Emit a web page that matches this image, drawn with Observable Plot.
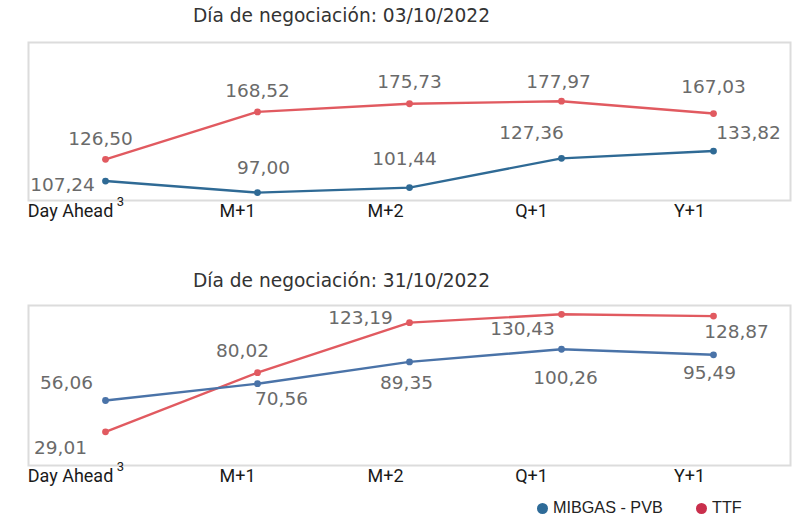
<!DOCTYPE html>
<html>
<head>
<meta charset="utf-8">
<script src="https://cdn.jsdelivr.net/npm/d3@7"></script>
<script src="https://cdn.jsdelivr.net/npm/@observablehq/plot@0.6"></script>
<style>
  html, body { margin: 0; padding: 0; background: #fff; }
  #root { position: relative; width: 798px; height: 519px; overflow: hidden; }
  .title { position: absolute; left: 0; width: 683px; text-align: center; font-family: "DejaVu Sans", sans-serif; font-size: 18.6px; line-height: 21px; color: #333; }
  .chart { position: absolute; left: 0; }
  .legend { position: absolute; top: 497px; font-family: "Liberation Sans", Arial, sans-serif; font-size: 16.2px; line-height: 20px; color: #222; white-space: nowrap; }
  .legend .sw { display: inline-block; width: 11px; height: 11px; border-radius: 50%; vertical-align: -1px; margin-right: 5px; }
</style>
</head>
<body>
<div id="root"></div>
<script>
// ---- data ----
const categories = ["Day Ahead", "M+1", "M+2", "Q+1", "Y+1"];
const titles = ["Día de negociación: 03/10/2022", "Día de negociación: 31/10/2022"];
const seriesNames = ["MIBGAS - PVB", "TTF"];
const mibgas1 = [107.24, 97.00, 101.44, 127.36, 133.82];
const ttf1 = [126.50, 168.52, 175.73, 177.97, 167.03];
const mibgas2 = [56.06, 70.56, 89.35, 100.26, 95.49];
const ttf2 = [29.01, 80.02, 123.19, 130.43, 128.87];

// ---- styling / layout ----
const red = "#e15a60";
const legendBlue = "#2e6b98";
const legendRed = "#c92f4c";
const fmt = d3.formatLocale({decimal: ",", thousands: ".", grouping: [3], currency: ["", "€"]}).format(".2f");
const tickNudge = [-35, -20, -24, -30, -24];
const labelNudges1 = {
  mib: [[-43, 4], [6, -25], [-5, -29], [-30, -25], [35, -18]],
  ttf: [[-5, -20], [0, -21], [0, -22], [-3, -19], [0, -26]]
};
const labelNudges2 = {
  mib: [[-39, -17], [24, 15], [-3, 21], [4, 29], [-4, 18]],
  ttf: [[-45, 16], [-15, -22], [-49, -5], [-39, 15], [23, 16]]
};

const root = document.getElementById("root");

function rows(values, series) {
  return categories.map((c, i) => ({cat: c, value: values[i], series}));
}

function labelMarks(data, nudges) {
  return data.map((d, i) => Plot.text([d], {
    x: "cat", y: "value", text: d => fmt(d.value),
    dx: nudges[i][0], dy: nudges[i][1],
    textAnchor: "middle", lineAnchor: "middle",
    fill: "#6a6a6a", fontSize: 18.5, fontFamily: "DejaVu Sans, sans-serif"
  }));
}

function panel({mib, ttf, yDomain, blue, nudges, top, height}) {
  const mRows = rows(mib, seriesNames[0]);
  const tRows = rows(ttf, seriesNames[1]);
  const chart = Plot.plot({
    width: 798, height,
    marginTop: 10, marginBottom: 22, marginLeft: 28, marginRight: 8,
    x: {type: "point", domain: categories, padding: 0.5, axis: null},
    y: {domain: yDomain, axis: null},
    style: {background: "transparent", overflow: "visible"},
    marks: [
      Plot.frame({stroke: "#dcdcdc", strokeWidth: 2}),
      Plot.line(tRows, {x: "cat", y: "value", stroke: red, strokeWidth: 2.4}),
      Plot.line(mRows, {x: "cat", y: "value", stroke: blue, strokeWidth: 2.4}),
      Plot.dot(tRows, {x: "cat", y: "value", fill: red, r: 3.4}),
      Plot.dot(mRows, {x: "cat", y: "value", fill: blue, r: 3.4}),
      ...labelMarks(mRows, nudges.mib),
      ...labelMarks(tRows, nudges.ttf),
      ...categories.map((c, i) => Plot.text([c], {
        x: d => d, frameAnchor: "bottom", text: d => d,
        dx: tickNudge[i], dy: 16, lineAnchor: "bottom", textAnchor: "middle",
        fill: "#1a1a1a", fontSize: 18, fontFamily: "Roboto, sans-serif"
      })),
      Plot.text([categories[0]], {
        x: d => d, frameAnchor: "bottom", text: () => "3",
        dx: 15, dy: 5, lineAnchor: "bottom", textAnchor: "middle",
        fill: "#1a1a1a", fontSize: 13, fontFamily: "Roboto, sans-serif"
      })
    ]
  });
  chart.classList.add("chart");
  chart.style.top = top + "px";
  root.appendChild(chart);
}

function title(text, top) {
  const t = document.createElement("div");
  t.className = "title";
  t.style.top = top + "px";
  t.textContent = text;
  root.appendChild(t);
}

title(titles[0], 5);
panel({mib: mibgas1, ttf: ttf1, yDomain: [90, 230], blue: "#2f6a95", nudges: labelNudges1, top: 32, height: 190});
title(titles[1], 270);
panel({mib: mibgas2, ttf: ttf2, yDomain: [0, 138], blue: "#4a73a8", nudges: labelNudges2, top: 295, height: 192});

// legend
[[seriesNames[0], legendBlue, 537], [seriesNames[1], legendRed, 696]].forEach(([name, col, left]) => {
  const l = document.createElement("div");
  l.className = "legend";
  l.style.left = left + "px";
  l.innerHTML = `<span class="sw" style="background:${col}"></span>`;
  l.appendChild(document.createTextNode(name));
  root.appendChild(l);
});
</script>
</body>
</html>
